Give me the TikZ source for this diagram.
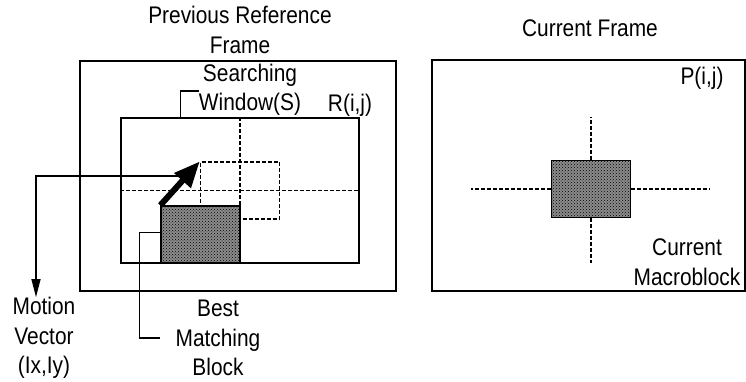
\documentclass[tikz,border=0pt]{standalone}
\usepackage{fontspec}
\setmainfont[FakeStretch=0.87]{Liberation Sans}
\usepackage{tikz}
\usetikzlibrary{arrows.meta,positioning,patterns,calc}

\begin{document}
\begin{tikzpicture}[
    x=1pt, y=-1pt,
    frame/.style={rectangle, draw, line width=1.4pt, inner sep=0pt},
    window/.style={rectangle, draw, line width=1.5pt, inner sep=0pt, minimum width=238pt, minimum height=145pt},
    mblock/.style={rectangle, draw, line width=1.4pt, inner sep=0pt, minimum width=79pt, minimum height=57pt},
    dotblock/.style={mblock, preaction={fill=black!45}, pattern=crosshatch dots},
    candblock/.style={mblock, dash pattern=on 4pt off 2pt, line width=1.3pt},
    crossline/.style={line width=1.3pt, dash pattern=on 4pt off 2pt},
    caption/.style={inner sep=0pt, align=center, font=\fontsize{24pt}{29.5pt}\selectfont},
    leader/.style={line width=1.2pt},
]
\useasboundingbox (0,0) rectangle (746,382);

% Frames
\node[frame, minimum width=316pt, minimum height=230pt] (prevframe) at (238,176) {};
\node[frame, minimum width=313pt, minimum height=231pt] (curframe) at (588.5,175.5) {};

% Frame titles
\node[caption] (prevtitle) at (240,30) {Previous Reference\\Frame};
\node[caption] (curtitle) at (590,28) {Current Frame};
\node[caption] (rij) at (350,105) {R(i,j)};
\node[caption] (pij) at (702,78) {P(i,j)};

% Searching window with its centre cross
\node[window] (window) at (240,190.5) {};
\draw[crossline] (window.north) -- (window.south);
\draw[crossline] (window.west) -- (window.east);
\node[candblock] (cand) at (window.center) {};

\node[caption] (srchtext) at (250,90) {Searching\\Window(S)};
\draw[leader] ([yshift=-1pt]srchtext.west) -| ([xshift=60pt]window.north west);

% Motion vector
\coordinate (mvtap) at ($(161,206)!0.67!(cand.north west)$);
\node[caption] (mvtext) at (44,338) {Motion\\Vector\\(Ix,Iy)};
\draw[line width=1.3pt, -{Triangle[length=18pt,width=9pt]}] (mvtap) -| ([xshift=-8pt]mvtext.north);

% Best matching block
\node[dotblock] (best) at (200.5,234.5) {};
\draw[line width=6pt, -{Triangle[length=26pt,width=21pt]}] (best.north west) -- (cand.north west);

\node[caption] (bmtext) at (218,338) {Best\\Matching\\Block};
\draw[leader] ([yshift=-27pt]best.north west) -- ++(-21,0) |- ([xshift=-15pt]bmtext.west);

% Current macroblock
\node[dotblock] (curblock) at (591,189) {};
\draw[crossline] (curblock.north) -- ([yshift=43pt]curblock.north);
\draw[crossline] (curblock.south) -- ([yshift=-45pt]curblock.south);
\draw[crossline] (curblock.west) -- ([xshift=-80pt]curblock.west);
\draw[crossline] (curblock.east) -- ([xshift=79pt]curblock.east);

\node[caption] (cmtext) at (687,262) {Current\\Macroblock};

\end{tikzpicture}
\end{document}
